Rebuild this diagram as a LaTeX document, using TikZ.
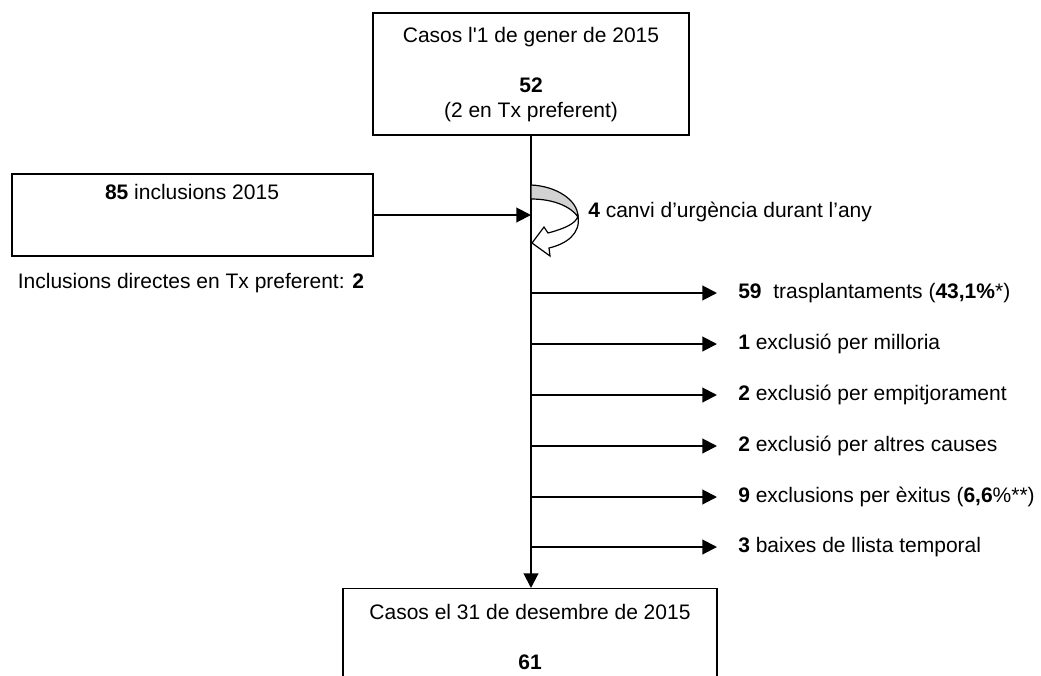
\documentclass[tikz,border=0pt]{standalone}
\usepackage{fontspec}
\setmainfont{Liberation Sans}
\newfontfamily\rawsans{Liberation Sans}
\usetikzlibrary{arrows.meta}
\begin{document}
\begin{tikzpicture}[x=0.75pt,y=-0.75pt,
  txt/.style={font=\fontsize{15.75}{18.75}\selectfont, inner sep=0pt, align=center},
  box/.style={draw, line width=1.1pt, inner sep=0pt, fill=white},
  arr/.style={line width=1.5pt, -{Triangle[length=11pt,width=11pt]}},
  lbl/.style={font=\fontsize{15.75}{18.75}\selectfont, inner sep=0pt, anchor=west}]
\useasboundingbox (0,0) rectangle (1041,675);
\clip (0,0) rectangle (1041,675);
% boxes
\node[box, minimum width=316*0.75pt, minimum height=122*0.75pt] (top) at (531,74) {};
\node[txt] (toptxt) at (531,74.5) {Casos l{\rawsans'}1 de gener de 2015\\ \mbox{}\\ \textbf{52}\\ (2 en Tx preferent)};
\node[box, minimum width=361*0.75pt, minimum height=82*0.75pt] (left) at (192.5,215) {};
\node[txt] (lefttxt) at (192,192) {\textbf{85} inclusions 2015};
\node[txt] (direct) at (191,283) {Inclusions directes en Tx preferent: \textbf{2}};
\node[box, minimum width=374*0.75pt, minimum height=140*0.75pt, anchor=north] (bot) at (530,588) {};
\node[txt] (bottxt1) at (530,612) {Casos el 31 de desembre de 2015};
\node[txt] (bottxt2) at (530,662) {\textbf{61}};
% trunk
\coordinate (trunktop) at (top.south);
\draw[arr] (trunktop) -- (trunktop |- bot.north);
% inclusion arrow
\draw[arr] (left.east) -- (left.east -| top.south);
% curved arrow (change of urgency)
\draw[line width=0.9pt, fill=gray!35] (531,185) .. controls (556,186) and (578,200) .. (578,217)
   .. controls (572,208) and (556,199) .. (531,199) -- cycle;
\draw[line width=0.9pt, fill=white, line join=miter] (578,216) .. controls (581,234) and (566,244) .. (549,248)
   -- (550,256) -- (532,243) -- (544,227) -- (548,233)
   .. controls (563,229) and (576,224) .. (578,216) -- cycle;
\node[lbl] (urg) at (588,212) {\textbf{4} canvi d’urgència durant l’any};
% outcome labels
\node[lbl] (o1) at (738,293) {\textbf{59}\ \ trasplantaments (\textbf{43,1\%}*)};
\node[lbl] (o2) at (738,344) {\textbf{1} exclusió per milloria};
\node[lbl] (o3) at (738,395) {\textbf{2} exclusió per empitjorament};
\node[lbl] (o4) at (738,446) {\textbf{2} exclusió per altres causes};
\node[lbl] (o5) at (738,497) {\textbf{9} exclusions per èxitus (\textbf{6,6}\%**)};
\node[lbl] (o6) at (738,547) {\textbf{3} baixes de llista temporal};
\foreach \o in {o1,o2,o3,o4,o5,o6}
  \draw[arr, shorten >=21*0.75pt] (\o.west -| top.south) -- (\o.west);
\end{tikzpicture}
\end{document}
